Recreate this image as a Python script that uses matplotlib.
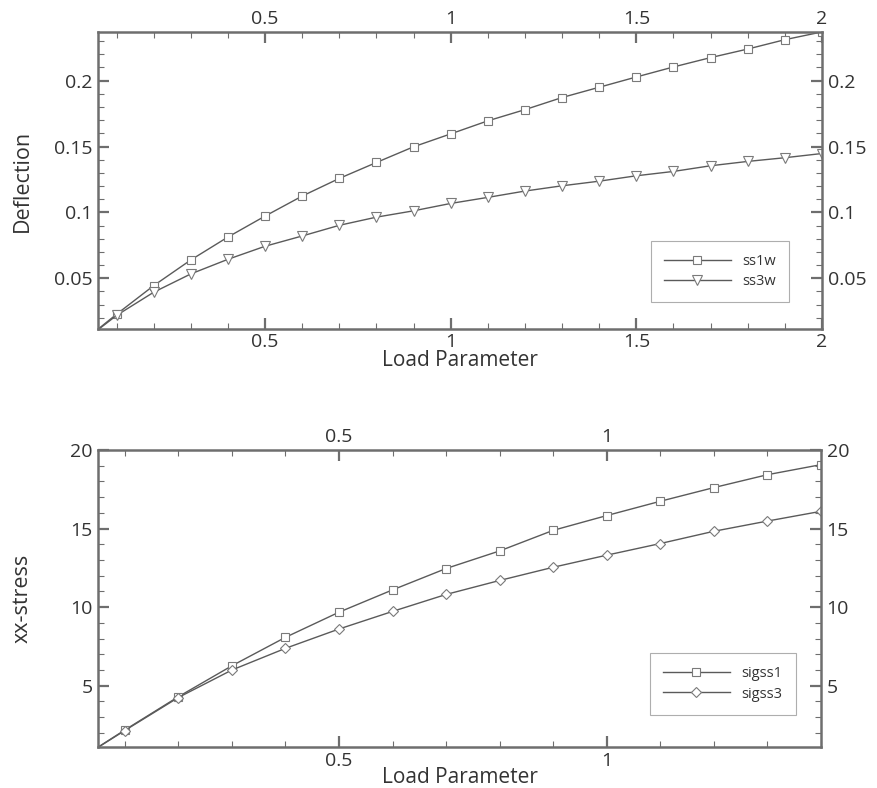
import matplotlib
matplotlib.use("Agg")
import matplotlib.pyplot as plt
from matplotlib.ticker import MultipleLocator, FuncFormatter

plt.rcParams['font.family'] = ['Open Sans', 'DejaVu Sans']

# Load steps
load_w = [0.0, 0.1, 0.2, 0.3, 0.4, 0.5, 0.6, 0.7, 0.8, 0.9, 1.0,
          1.1, 1.2, 1.3, 1.4, 1.5, 1.6, 1.7, 1.8, 1.9, 2.0]
ss1w = [0.0, 0.0227, 0.0444, 0.0639, 0.0813, 0.0972, 0.1124, 0.1258, 0.1379,
        0.1498, 0.1596, 0.1695, 0.1780, 0.1872, 0.1950, 0.2028, 0.2104,
        0.2175, 0.2240, 0.2311, 0.2370]
ss3w = [0.0, 0.0218, 0.0394, 0.0533, 0.0644, 0.0743, 0.0821, 0.0902, 0.0964,
        0.1012, 0.1068, 0.1114, 0.1162, 0.1202, 0.1237, 0.1278, 0.1311,
        0.1354, 0.1387, 0.1415, 0.1447]

load_s = [0.0, 0.1, 0.2, 0.3, 0.4, 0.5, 0.6, 0.7, 0.8, 0.9, 1.0,
          1.1, 1.2, 1.3, 1.4]
sigss1 = [0.0, 2.18, 4.30, 6.27, 8.08, 9.68, 11.10, 12.46, 13.58, 14.89,
          15.83, 16.74, 17.61, 18.43, 19.07]
sigss3 = [0.0, 2.15, 4.25, 6.00, 7.38, 8.61, 9.73, 10.81, 11.70, 12.54,
          13.31, 14.05, 14.83, 15.48, 16.10]

x_major = [0.5, 1.0, 1.5, 2.0]
w_major = [0.05, 0.1, 0.15, 0.2]
s_major = [5, 10, 15, 20]

LINE = '#5a5a5a'
MARK = '#7a7a7a'
SPINE = '#6e6e6e'
TXT = '#333333'


def fmt(v, pos):
    s = ('%.2f' % v).rstrip('0').rstrip('.')
    return s


def style(ax, xlim, ylim, xmaj, ymaj, ymin_step):
    ax.set_xlim(*xlim)
    ax.set_ylim(*ylim)
    ax.set_xticks(xmaj)
    ax.set_yticks(ymaj)
    ax.xaxis.set_minor_locator(MultipleLocator(0.1))
    ax.yaxis.set_minor_locator(MultipleLocator(ymin_step))
    ax.xaxis.set_major_formatter(FuncFormatter(fmt))
    ax.yaxis.set_major_formatter(FuncFormatter(fmt))
    ax.tick_params(which='both', direction='in', top=True, right=True,
                   labeltop=True, labelright=True, color=SPINE,
                   labelcolor=TXT, labelsize=14, pad=4)
    ax.tick_params(which='major', length=8, width=1.6)
    ax.tick_params(which='minor', length=4, width=0.8)
    ax.tick_params(axis='x', which='major', pad=3)
    for sp in ax.spines.values():
        sp.set_color(SPINE)
        sp.set_linewidth(1.8)


def legend(ax, anchor):
    leg = ax.legend(loc='lower right', bbox_to_anchor=anchor,
                    fontsize=10.5, frameon=True, fancybox=False,
                    handlelength=4.6, borderpad=0.9, labelspacing=0.35,
                    borderaxespad=0)
    leg.get_frame().set_edgecolor('#9a9a9a')
    leg.get_frame().set_linewidth(0.8)
    for t in leg.get_texts():
        t.set_color(TXT)
    return leg


fig = plt.figure(figsize=(8.78, 7.88), dpi=100)

ax1 = fig.add_axes([0.1116, 0.5825, 0.8246, 0.377])
ax1.plot(load_w, ss1w, color=LINE, lw=1.0, marker='s', ms=5.5,
         mfc='white', mec=MARK, mew=0.8, label='ss1w')
ax1.plot(load_w, ss3w, color=LINE, lw=1.0, marker='v', ms=6.5,
         mfc='white', mec=MARK, mew=0.8, label='ss3w')
style(ax1, (0.05, 2.0), (0.0115, 0.237), x_major, w_major, 0.01)
ax1.set_ylabel('Deflection', fontsize=15.5, color=TXT)
ax1.yaxis.set_label_coords(-0.09, 0.5)
ax1.set_xlabel('Load Parameter', fontsize=15, color=TXT, labelpad=-1)
legend(ax1, (0.955, 0.09))

ax2 = fig.add_axes([0.1116, 0.0516, 0.8235, 0.3773])
ax2.plot(load_s, sigss1, color=LINE, lw=1.0, marker='s', ms=5.5,
         mfc='white', mec=MARK, mew=0.8, label='sigss1')
ax2.plot(load_s, sigss3, color=LINE, lw=1.0, marker='D', ms=5,
         mfc='white', mec=MARK, mew=0.8, label='sigss3')
style(ax2, (0.05, 1.4), (1.08, 20), [0.5, 1.0], s_major, 1)
ax2.set_ylabel('xx-stress', fontsize=15.5, color=TXT)
ax2.yaxis.set_label_coords(-0.09, 0.5)
ax2.set_xlabel('Load Parameter', fontsize=15, color=TXT, labelpad=-2)
legend(ax2, (0.965, 0.11))

fig.savefig('out.png', dpi=100, facecolor='white')
